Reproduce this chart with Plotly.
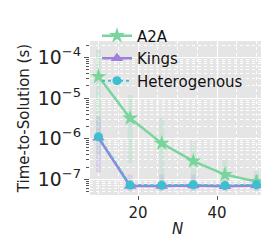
import plotly.graph_objects as go

N = [10, 18, 26, 34, 42, 50]
a2a = [3.4e-5, 3.2e-6, 7.7e-7, 2.8e-7, 1.3e-7, 8.7e-8]
kings = [1.05e-6, 6.8e-8, 6.8e-8, 7.0e-8, 6.7e-8, 7.0e-8]
hetero = [1.12e-6, 7.2e-8, 7.1e-8, 7.3e-8, 7.0e-8, 7.3e-8]

a2a_lo = [4e-7, 2.5e-7, 9e-8, 9e-8, 6e-8, 6e-8]
a2a_hi = [1.6e-4, 1.2e-5, 3.3e-6, 9e-7, 3e-7, 1.6e-7]
kings_lo = [1.5e-7, 5e-8, 5e-8, 5e-8, 5e-8, 5e-8]
kings_hi = [3.5e-6, 1.3e-7, 1.3e-7, 1.3e-7, 1.3e-7, 1.3e-7]

C_A2A = "#78d69c"
C_KINGS = "#a17ddf"
C_HET = "#3cbfcf"

def band(xs, lo, hi):
    bx, by = [], []
    for x, l, h in zip(xs, lo, hi):
        bx += [x, x, None]
        by += [l, h, None]
    return bx, by

fig = go.Figure()
for lo, hi, c in [(a2a_lo, a2a_hi, C_A2A), (kings_lo, kings_hi, C_KINGS)]:
    bx, by = band(N, lo, hi)
    fig.add_trace(go.Scatter(x=bx, y=by, mode="lines", line=dict(color=c, width=5),
                             opacity=0.18, showlegend=False, hoverinfo="skip"))

fig.add_trace(go.Scatter(x=N, y=a2a, name="A2A", mode="lines+markers",
                         line=dict(color=C_A2A, width=2.5),
                         marker=dict(symbol="star", size=12, color=C_A2A)))
fig.add_trace(go.Scatter(x=N, y=kings, name="Kings", mode="lines+markers",
                         line=dict(color=C_KINGS, width=2.5),
                         marker=dict(symbol="triangle-up", size=11, color=C_KINGS)))
fig.add_trace(go.Scatter(x=N, y=hetero, name="Heterogenous", mode="lines+markers",
                         line=dict(color=C_HET, width=2, dash="dot"),
                         marker=dict(symbol="circle", size=9, color=C_HET)))

fig.update_layout(
    width=269, height=246,
    margin=dict(l=82, r=12, t=11, b=59),
    paper_bgcolor="white", plot_bgcolor="#e5e5e5",
    font=dict(family="DejaVu Sans", size=15, color="#222"),
    showlegend=True,
    legend=dict(x=0.04, y=1.14, xanchor="left", yanchor="top", bgcolor="rgba(0,0,0,0)",
                font=dict(size=15, color="#111"), tracegroupgap=0, itemwidth=30),
    xaxis=dict(range=[7.85, 52.15], tickvals=[20, 40], ticks="outside", ticklen=4,
               tickcolor="#555", showgrid=True, gridcolor="white", gridwidth=1,
               zeroline=False, showline=False,
               minor=dict(dtick=5, tick0=0, showgrid=True, gridcolor="white",
                          griddash="dot", gridwidth=0.8),
               title=dict(text="<i>N</i>", standoff=2, font=dict(size=15))),
    yaxis=dict(type="log", range=[-7.39, -3.59], dtick=1, exponentformat="power",
               ticks="outside", ticklen=5, tickcolor="#555", showgrid=True,
               gridcolor="white", gridwidth=1, zeroline=False, showline=False,
               minor=dict(dtick="D1", ticks="outside", ticklen=3, tickcolor="#555",
                          showgrid=True, gridcolor="white", griddash="dot", gridwidth=0.8),
               title=dict(text="Time-to-Solution (s)", standoff=4, font=dict(size=15))),
)

fig.write_html("out.html")
